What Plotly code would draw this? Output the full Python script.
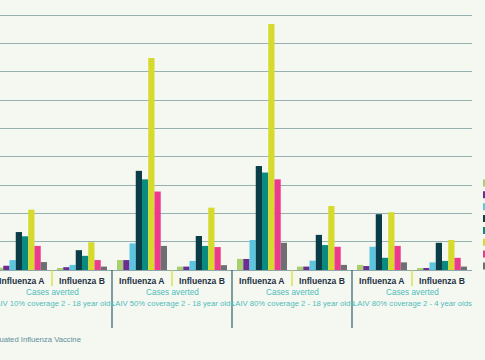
import plotly.graph_objects as go

# ---- data (gridline units) ----
categories = ["Influenza A", "Influenza B"] * 4
panel_line1 = ["Cases averted"] * 4
panel_line2 = [
    "LAIV 10% coverage 2 - 18 year olds",
    "LAIV 50% coverage 2 - 18 year olds",
    "LAIV 80% coverage 2 - 18 year olds",
    "LAIV 80% coverage 2 - 4 year olds",
]
series_names = ["<1", "1-4", "5-14", "15-24", "25-44", "45-64", "65-74", "75+"]
series_colors = ["#a9cf6e", "#6b2d91", "#5cc6e0", "#0b3d48",
                 "#0b8a80", "#d5da2c", "#ec3b8d", "#6f6e72"]
s_lightgreen = [0.08, 0.07, 0.35, 0.12, 0.39, 0.12, 0.18, 0.07]
s_purple     = [0.15, 0.10, 0.35, 0.12, 0.39, 0.12, 0.14, 0.07]
s_lightblue  = [0.35, 0.18, 0.94, 0.32, 1.06, 0.33, 0.82, 0.27]
s_navy       = [1.34, 0.70, 3.50, 1.20, 3.67, 1.24, 1.97, 0.96]
s_teal       = [1.19, 0.50, 3.20, 0.85, 3.44, 0.88, 0.43, 0.32]
s_yellow     = [2.13, 0.98, 7.48, 2.20, 8.68, 2.26, 2.04, 1.06]
s_pink       = [0.85, 0.35, 2.77, 0.81, 3.20, 0.82, 0.85, 0.43]
s_gray       = [0.28, 0.12, 0.85, 0.17, 0.96, 0.18, 0.27, 0.12]
series_values = [s_lightgreen, s_purple, s_lightblue, s_navy,
                 s_teal, s_yellow, s_pink, s_gray]
footnote = "LAIV: Live Attenuated Influenza Vaccine"

BG = "#f5f8f0"
W, H = 485, 360
PLOT_H = 270  # pixels of plot area height
FONT = "Liberation Sans, Arial, Helvetica"

x = list(range(len(categories)))
fig = go.Figure()
for name, color, vals in zip(series_names, series_colors, series_values):
    fig.add_trace(go.Bar(x=x, y=vals, name=name, marker_color=color,
                         marker_line_width=0, showlegend=False))

shapes = []
annotations = []
# panel separators (dark) and A/B dividers (yellow)
for i in range(len(categories) - 1):
    if i % 2 == 1:
        shapes.append(dict(type="line", xref="x", yref="paper",
                           x0=i + 0.5, x1=i + 0.5, y0=0, y1=-58 / PLOT_H,
                           line=dict(color="#2f5f6b", width=1.2)))
    else:
        shapes.append(dict(type="line", xref="x", yref="paper",
                           x0=i + 0.5, x1=i + 0.5, y0=0, y1=-16 / PLOT_H,
                           line=dict(color="#d5da2c", width=1.2)))

# category labels
for i, c in enumerate(categories):
    annotations.append(dict(x=i, y=-10.7 / PLOT_H, xref="x", yref="paper",
                            text="<b>%s</b>" % c, showarrow=False,
                            yanchor="middle",
                            font=dict(family=FONT, size=8.6, color="#1f3344")))
# panel labels
for p, (l1, l2) in enumerate(zip(panel_line1, panel_line2)):
    annotations.append(dict(x=2 * p + 0.5, y=-22.7 / PLOT_H, xref="x", yref="paper",
                            text=l1, showarrow=False, yanchor="middle",
                            font=dict(family=FONT, size=8.2, color="#4fbcbc")))
    annotations.append(dict(x=2 * p + 0.5, y=-33 / PLOT_H, xref="x", yref="paper",
                            text=l2, showarrow=False, yanchor="middle",
                            font=dict(family=FONT, size=7.7, color="#4fbcbc")))
# footnote (left part falls outside the cropped view)
annotations.append(dict(x=83 / 472, y=-69 / PLOT_H, xref="paper", yref="paper",
                        text=footnote, showarrow=False, xanchor="right",
                        yanchor="middle",
                        font=dict(family=FONT, size=7.7, color="#5b8f9c")))

# legend swatches, partly outside the view at right edge
for k, color in enumerate(series_colors):
    yc = 183 + k * 11.85
    shapes.append(dict(type="rect", xref="paper", yref="paper",
                       x0=483 / 472, x1=491 / 472,
                       y0=(PLOT_H - yc - 3.5) / PLOT_H,
                       y1=(PLOT_H - yc + 3.5) / PLOT_H,
                       fillcolor=color, line=dict(width=0)))

fig.update_layout(
    width=W, height=H,
    margin=dict(l=0, r=13, t=0, b=H - PLOT_H),
    paper_bgcolor=BG, plot_bgcolor=BG,
    barmode="group", bargap=0.167, bargroupgap=0,
    xaxis=dict(range=[-0.5 + 8 / 60, 7.5], showticklabels=False, showgrid=False,
               zeroline=False, showline=False, ticks=""),
    yaxis=dict(range=[0, PLOT_H / 28.33], dtick=1, showticklabels=False,
               showgrid=True, gridcolor="#97b0b2", gridwidth=1.4,
               zeroline=True, zerolinecolor="#8fa7aa", zerolinewidth=1.4,
               showline=False, ticks=""),
    shapes=shapes, annotations=annotations,
    font=dict(family=FONT),
)
fig.write_html(
    "out.html",
    config={"displayModeBar": False},
    post_script="document.body.style.margin='0';document.body.style.background='%s';" % BG,
)
